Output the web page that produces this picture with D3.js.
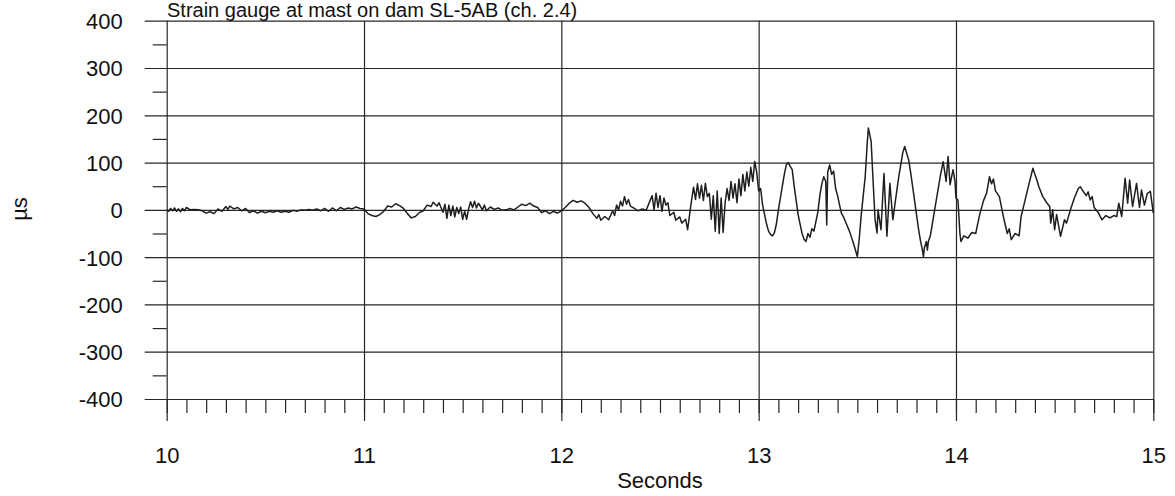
<!DOCTYPE html>
<html>
<head>
<meta charset="utf-8">
<script src="https://cdn.jsdelivr.net/npm/d3@7"></script>
<style>
  html, body { margin: 0; padding: 0; background: #fff; }
  svg { display: block; font-family: "Liberation Sans", Arial, sans-serif; }
</style>
</head>
<body>
<svg id="chart" width="1175" height="496"></svg>
<script>
const TITLE = 'Strain gauge at mast on dam SL-5AB (ch. 2.4)';
const X_LABEL = 'Seconds';
const Y_LABEL = 'µs';
const xTicks = [10, 11, 12, 13, 14, 15];
const yTicks = [-400, -300, -200, -100, 0, 100, 200, 300, 400];

// time (s) and strain (µs)
const seconds = [
  10.00, 10.01, 10.02, 10.03, 10.04, 10.05, 10.06, 10.07, 10.08, 10.09,
  10.10, 10.12, 10.14, 10.16, 10.18, 10.20, 10.22, 10.24, 10.26, 10.28,
  10.30, 10.31, 10.32, 10.34, 10.36, 10.38, 10.40, 10.42, 10.44, 10.46,
  10.48, 10.50, 10.52, 10.54, 10.56, 10.58, 10.60, 10.62, 10.64, 10.66,
  10.68, 10.70, 10.72, 10.74, 10.76, 10.78, 10.80, 10.82, 10.84, 10.86,
  10.88, 10.90, 10.92, 10.94, 10.96, 10.98, 11.00, 11.02, 11.04, 11.06,
  11.08, 11.10, 11.12, 11.14, 11.16, 11.18, 11.20, 11.22, 11.24, 11.26,
  11.28, 11.30, 11.32, 11.34, 11.35, 11.37, 11.38, 11.40, 11.41, 11.42,
  11.43, 11.44, 11.45, 11.46, 11.47, 11.48, 11.49, 11.50, 11.51, 11.52,
  11.53, 11.54, 11.55, 11.56, 11.57, 11.58, 11.60, 11.61, 11.62, 11.64,
  11.66, 11.68, 11.70, 11.72, 11.74, 11.76, 11.78, 11.80, 11.82, 11.84,
  11.86, 11.88, 11.90, 11.92, 11.94, 11.96, 11.98, 12.00, 12.02, 12.04,
  12.06, 12.08, 12.10, 12.12, 12.14, 12.16, 12.18, 12.19, 12.20, 12.22,
  12.24, 12.26, 12.27, 12.28, 12.29, 12.30, 12.31, 12.32, 12.33, 12.34,
  12.35, 12.37, 12.39, 12.41, 12.43, 12.45, 12.46, 12.47, 12.48, 12.49,
  12.50, 12.51, 12.52, 12.53, 12.54, 12.55, 12.57, 12.58, 12.60, 12.61,
  12.63, 12.64, 12.65, 12.66, 12.67, 12.68, 12.69, 12.70, 12.71, 12.72,
  12.73, 12.74, 12.75, 12.76, 12.77, 12.78, 12.79, 12.80, 12.81, 12.82,
  12.83, 12.84, 12.85, 12.86, 12.87, 12.88, 12.89, 12.90, 12.91, 12.92,
  12.93, 12.94, 12.95, 12.96, 12.97, 12.98, 12.99, 13.00, 13.01, 13.02,
  13.03, 13.04, 13.05, 13.06, 13.07, 13.08, 13.09, 13.10, 13.11, 13.12,
  13.13, 13.14, 13.15, 13.16, 13.17, 13.18, 13.19, 13.20, 13.21, 13.22,
  13.23, 13.24, 13.25, 13.26, 13.27, 13.28, 13.29, 13.30, 13.31, 13.32,
  13.33, 13.34, 13.345, 13.35, 13.36, 13.37, 13.38, 13.39, 13.40, 13.41,
  13.42, 13.43, 13.44, 13.46, 13.48, 13.50, 13.51, 13.52, 13.53, 13.54,
  13.55, 13.556, 13.57, 13.58, 13.59, 13.60, 13.605, 13.62, 13.635, 13.65,
  13.665, 13.68, 13.69, 13.70, 13.71, 13.72, 13.73, 13.74, 13.75, 13.76,
  13.77, 13.78, 13.79, 13.80, 13.81, 13.82, 13.83, 13.835, 13.84, 13.85,
  13.855, 13.86, 13.87, 13.88, 13.89, 13.90, 13.91, 13.92, 13.935, 13.95,
  13.96, 13.97, 13.985, 13.995, 14.00, 14.01, 14.02, 14.025, 14.04, 14.06,
  14.08, 14.10, 14.12, 14.14, 14.155, 14.17, 14.18, 14.19, 14.20, 14.22,
  14.24, 14.26, 14.27, 14.28, 14.30, 14.32, 14.33, 14.35, 14.37, 14.39,
  14.40, 14.41, 14.42, 14.44, 14.46, 14.475, 14.48, 14.49, 14.50, 14.51,
  14.53, 14.55, 14.56, 14.58, 14.60, 14.62, 14.63, 14.64, 14.66, 14.67,
  14.68, 14.69, 14.70, 14.72, 14.74, 14.76, 14.78, 14.80, 14.815, 14.825,
  14.84, 14.857, 14.87, 14.88, 14.895, 14.915, 14.93, 14.94, 14.955, 14.97,
  14.985, 15.00
];
const strain = [
  0, -3, 3, -2, 4, -3, 2, -4, 3, -2,
  5, 0, 1, 0, -2, -7, -4, -8, 2, -3,
  7, 1, 8, 2, 5, -2, 3, -6, -2, -7,
  -3, -6, -3, -5, -2, -5, -3, -5, -1, -3,
  0, -1, 1, -1, 2, -2, 3, -3, 4, -2,
  5, 1, 4, 2, 6, 3, 2, -8, -12, -14,
  -10, -3, 8, 6, 13, 9, 3, -8, -17, -14,
  -6, -2, 10, 7, 16, 8, 15, -5, 12, -18,
  10, -12, 8, -15, 5, -8, 6, -20, -3, -20,
  2, 17, 5, 18, 4, 14, 0, 10, -2, 6,
  1, 4, -1, 0, 3, 0, 6, 12, 9, 14,
  8, 5, -6, -2, -8, -3, -7, -2, 5, 14,
  20, 16, 19, 14, 5, -8, -18, -10, -22, -14,
  -21, -2, -12, 10, 0, 18, 8, 28, 12, 22,
  8, 3, -2, 2, -1, 20, 30, 0, 35, 5,
  30, -3, 25, 10, 15, -12, -5, -22, -15, -28,
  -20, -42, -10, 20, 48, 22, 55, 25, 52, 20,
  56, 28, 35, -20, 30, -45, 40, -50, 25, -48,
  15, 45, 20, 60, 25, 55, 15, 65, 30, 75,
  40, 80, 50, 90, 60, 102, 80, 40, 45, 10,
  -10, -30, -45, -52, -55, -48, -30, 0, 25, 50,
  75, 95, 100, 92, 85, 50, 20, -10, -30, -50,
  -62, -67, -50, -58, -40, -45, -25, -5, 30, 55,
  70, 60, -32, 80, 95, 75, 82, 45, 30, 10,
  -8, -15, -25, -45, -70, -99, -60, -10, 30, 70,
  140, 173, 145, 60, -20, -49, 0, -42, 77, -56,
  56, -21, 10, 40, 70, 95, 120, 134, 120, 106,
  80, 50, 20, -10, -40, -65, -85, -99, -80, -67,
  -85, -67, -55, -30, -5, 20, 45, 70, 102, 60,
  113, 53, 85, 60, 25, 21, -50, -67, -55, -60,
  -48, -50, -10, 20, 35, 70, 55, 65, 40, 28,
  -14, -50, -40, -63, -50, -55, -14, 20, 55, 88,
  75, 63, 49, 28, 15, 7, -28, 0, -42, -10,
  -56, -21, -28, 0, 25, 45, 49, 42, 30, 38,
  21, 28, 5, -5, -21, -12, -17, -12, -14, 14,
  -14, 67, 14, 63, 7, 56, 5, 42, 10, 35,
  39, -7
];

const svg = d3.select('#chart');
const LEFT = 166.7, RIGHT = 1153.3, TOP = 20.7, BOTTOM = 399;
const INK = '#262626';

const x = d3.scaleLinear().domain([10, 15]).range([LEFT, RIGHT]);
const y = d3.scaleLinear().domain([-400, 400]).range([BOTTOM, TOP]);

// horizontal grid, sticking out 22px left of the axis
svg.append('g')
  .attr('transform', `translate(${LEFT},0)`)
  .call(d3.axisLeft(y).tickValues(yTicks).tickSize(-(RIGHT - LEFT)).tickFormat(''))
  .call(g => g.select('.domain').remove())
  .call(g => g.selectAll('line').attr('x1', -22).attr('stroke', INK).attr('stroke-width', 1.2));

// vertical grid, sticking out 22px below the axis
svg.append('g')
  .attr('transform', `translate(0,${BOTTOM})`)
  .call(d3.axisBottom(x).tickValues(xTicks).tickSize(-(BOTTOM - TOP)).tickFormat(''))
  .call(g => g.select('.domain').remove())
  .call(g => g.selectAll('line').attr('y1', 22).attr('stroke', INK).attr('stroke-width', 1.2));

// minor ticks
svg.append('g')
  .attr('transform', `translate(${LEFT},0)`)
  .call(d3.axisLeft(y).tickValues(d3.range(-350, 400, 100)).tickSize(14).tickFormat(''))
  .call(g => g.select('.domain').remove())
  .call(g => g.selectAll('line').attr('stroke', INK).attr('stroke-width', 1.2));

svg.append('g')
  .attr('transform', `translate(0,${BOTTOM})`)
  .call(d3.axisBottom(x).ticks(50).tickSize(14).tickFormat(''))
  .call(g => g.select('.domain').remove())
  .call(g => g.selectAll('line').attr('stroke', INK).attr('stroke-width', 1.2));

// tick labels (plain hyphen for negatives, as in the original)
svg.append('g')
  .attr('transform', `translate(${LEFT},0)`)
  .call(d3.axisLeft(y).tickValues(yTicks).tickSize(0).tickPadding(44).tickFormat(d => String(d)))
  .call(g => g.select('.domain').remove())
  .call(g => g.selectAll('text')
    .attr('font-size', 22).attr('font-family', null).attr('fill', '#111').attr('dy', '0.36em'));

svg.append('g')
  .attr('transform', `translate(0,${BOTTOM})`)
  .call(d3.axisBottom(x).tickValues(xTicks).tickSize(0).tickFormat(d => String(d)))
  .call(g => g.select('.domain').remove())
  .call(g => g.selectAll('text')
    .attr('font-size', 22).attr('font-family', null).attr('fill', '#111')
    .attr('y', 64).attr('dy', null));

// signal
const line = d3.line()
  .x((d, i) => x(seconds[i]))
  .y(d => y(d));

svg.append('path')
  .datum(strain)
  .attr('fill', 'none')
  .attr('stroke', '#1e1e1e')
  .attr('stroke-width', 1.5)
  .attr('stroke-linejoin', 'round')
  .attr('d', line);

// titles
svg.append('text')
  .attr('x', 167).attr('y', 17)
  .attr('font-size', 20).attr('fill', '#111')
  .text(TITLE);

svg.append('text')
  .attr('x', (LEFT + RIGHT) / 2).attr('y', 488)
  .attr('text-anchor', 'middle')
  .attr('font-size', 22).attr('fill', '#111')
  .text(X_LABEL);

svg.append('text')
  .attr('transform', 'translate(27,209) rotate(-90)')
  .attr('text-anchor', 'middle')
  .attr('font-size', 22).attr('fill', '#111')
  .text(Y_LABEL);
</script>
</body>
</html>
